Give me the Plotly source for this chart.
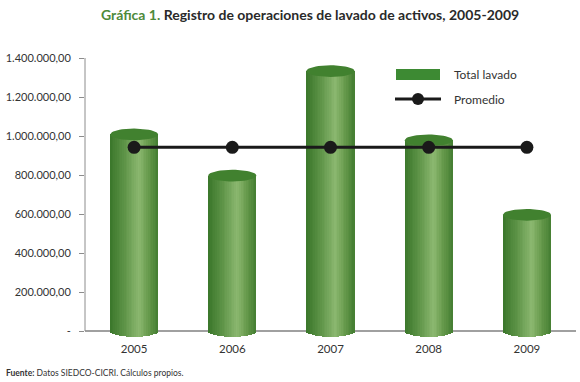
import math
import plotly.graph_objects as go

# ---- data ----
years = ["2005", "2006", "2007", "2008", "2009"]
total_lavado = [1008000, 797000, 1333000, 978000, 596000]
promedio = [942000, 942000, 942000, 942000, 942000]
ytick_vals = [0, 200000, 400000, 600000, 800000, 1000000, 1200000, 1400000]
ytick_text = ["-", "200.000,00", "400.000,00", "600.000,00", "800.000,00",
              "1.000.000,00", "1.200.000,00", "1.400.000,00"]

idx = list(range(len(years)))

# ---- style ----
BAR_W = 0.49          # bar width in category units
ELL_B = 30000         # half-height of the cylinder ellipses in data units
N_SLICES = 28
TXT = "#333333"
FONT = "Lato"

stops = [(0.0, (58, 118, 42)), (0.30, (94, 148, 72)), (0.60, (140, 184, 112)),
         (0.82, (98, 150, 72)), (1.0, (68, 126, 50))]


def grad(t):
    for (t0, c0), (t1, c1) in zip(stops[:-1], stops[1:]):
        if t0 <= t <= t1:
            f = (t - t0) / (t1 - t0)
            return "rgb(%d,%d,%d)" % tuple(round(a + (b - a) * f) for a, b in zip(c0, c1))
    return "rgb(%d,%d,%d)" % stops[-1][1]


fig = go.Figure()

sw = BAR_W / N_SLICES
half = BAR_W / 2
for j in range(N_SLICES):
    off = -half + j * sw
    xc = off + sw / 2
    h = ELL_B * math.sqrt(max(0.0, 1 - (xc / half) ** 2))
    width = sw * 1.2 if j < N_SLICES - 1 else sw
    fig.add_trace(go.Bar(
        x=idx, y=[v + h for v in total_lavado], base=[-h] * len(idx),
        width=width, offset=off,
        marker=dict(color=grad((j + 0.5) / N_SLICES), line=dict(width=0)),
        showlegend=False, hoverinfo="skip"))

# top ellipses of the cylinders
ex, ey = [], []
npts = 48
for i, v in zip(idx, total_lavado):
    for k in range(npts + 1):
        t = 2 * math.pi * k / npts
        ex.append(i + half * math.cos(t))
        ey.append(v + ELL_B * math.sin(t))
    ex.append(None)
    ey.append(None)
fig.add_trace(go.Scatter(x=ex, y=ey, mode="lines", fill="toself",
                         fillcolor="#41812f", line=dict(width=0, color="#41812f"),
                         showlegend=False, hoverinfo="skip"))

# promedio line
fig.add_trace(go.Scatter(x=idx, y=promedio, mode="lines+markers",
                         line=dict(color="#1a1a1a", width=3),
                         marker=dict(color="#1a1a1a", size=13),
                         showlegend=False))

# ---- layout ----
L, R, T, B = 85, 4, 58, 45
W, H = 580, 382
pw, ph = W - L - R, H - T - B
ymax = 1400000
ymin = -ymax * 6 / 273


def px(x):
    return (x - L) / pw


def py(y):
    return (H - B - y) / ph


shapes = [
    dict(type="line", xref="paper", yref="y", x0=0, x1=1, y0=0, y1=0,
         line=dict(color="#a0a0a0", width=2), layer="below"),
    dict(type="line", xref="paper", yref="y", x0=0, x1=0, y0=0, y1=ymax,
         line=dict(color="#8c8c8c", width=1), layer="below"),
    # manual legend
    dict(type="rect", xref="paper", yref="paper", x0=px(396), x1=px(440),
         y0=py(80), y1=py(69), fillcolor="#3d8a33", line=dict(width=0)),
    dict(type="line", xref="paper", yref="paper", x0=px(395), x1=px(441),
         y0=py(99), y1=py(99), line=dict(color="#1a1a1a", width=3)),
    dict(type="circle", xref="paper", yref="paper", x0=px(412), x1=px(424),
         y0=py(105), y1=py(93), fillcolor="#1a1a1a", line=dict(width=0)),
]

annotations = [
    dict(xref="paper", yref="paper", x=px(452), y=py(74), xanchor="left", yanchor="middle",
         text="Total lavado", showarrow=False, font=dict(family=FONT, size=12, color=TXT)),
    dict(xref="paper", yref="paper", x=px(452), y=py(99), xanchor="left", yanchor="middle",
         text="Promedio", showarrow=False, font=dict(family=FONT, size=12, color=TXT)),
    dict(xref="paper", yref="paper", x=px(310), y=py(14), xanchor="center", yanchor="middle",
         text="<span style='color:#4e8a3a'>Gráfica 1.</span> Registro de operaciones de lavado de activos, 2005-2009",
         showarrow=False, font=dict(family=FONT, size=14, color="#2a2a2a", weight="bold")),
    dict(xref="paper", yref="paper", x=px(4), y=py(373), xanchor="left", yanchor="middle",
         text="<b>Fuente:</b> Datos SIEDCO-CICRI. Cálculos propios.",
         showarrow=False, font=dict(family=FONT, size=8.5, color=TXT)),
]

fig.update_layout(
    width=W, height=H,
    margin=dict(l=L, r=R, t=T, b=B),
    paper_bgcolor="white", plot_bgcolor="white",
    barmode="overlay", bargap=0,
    showlegend=False,
    shapes=shapes, annotations=annotations,
    xaxis=dict(range=[-0.5, 4.5], tickvals=idx, ticktext=years, showgrid=False,
               zeroline=False, showline=False, ticks="", fixedrange=True,
               ticklabelstandoff=3,
               tickfont=dict(family=FONT, size=11.5, color=TXT)),
    yaxis=dict(range=[ymin, ymax], tickvals=ytick_vals, ticktext=ytick_text,
               showgrid=False, zeroline=False, showline=False, ticks="outside",
               ticklen=5, tickcolor="#8c8c8c", tickwidth=1, fixedrange=True,
               ticklabelstandoff=6,
               tickfont=dict(family=FONT, size=11, color=TXT)),
)

fig.write_html("out.html", config={"displayModeBar": False},
               post_script="document.body.style.margin='0';document.body.style.padding='0';document.body.style.overflow='hidden';")
